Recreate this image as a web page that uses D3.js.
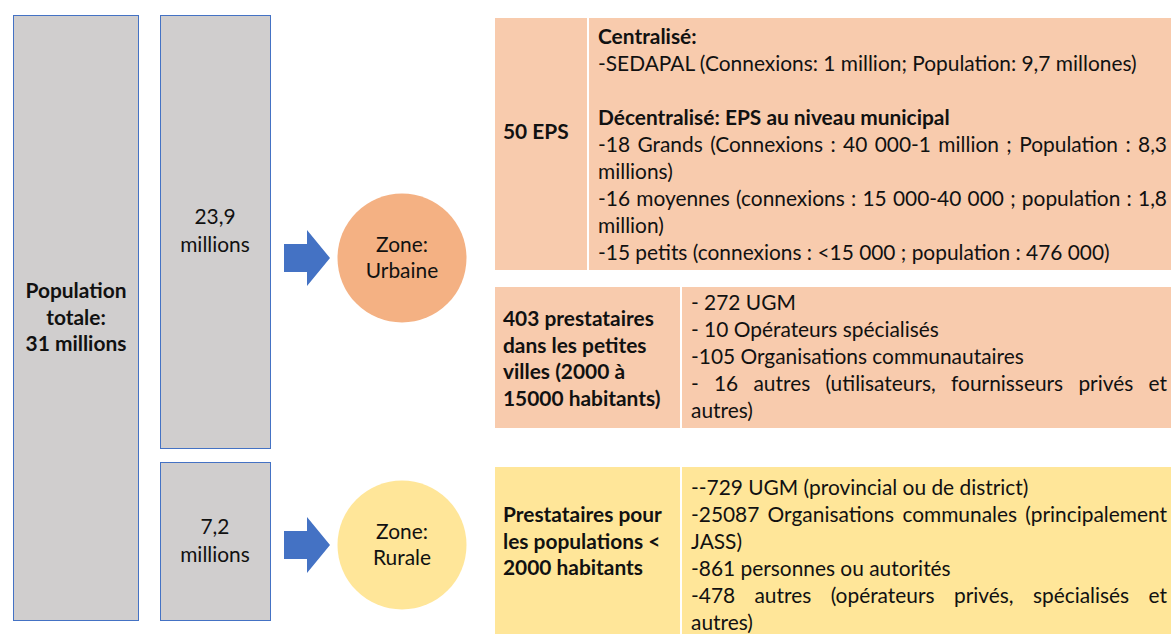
<!DOCTYPE html>
<html>
<head>
<meta charset="utf-8">
<script src="https://cdn.jsdelivr.net/npm/d3@7"></script>
<style>
  body { margin: 0; background: #fff; }
  svg text { font-family: Lato, "Open Sans", sans-serif; fill: #111; }
</style>
</head>
<body>
<svg id="chart" width="1171" height="634"></svg>
<script>
// population (millions)
var totalLabel = ["Population", "totale:", "31 millions"];
var zones = ["Urbaine", "Rurale"];
var zoneValues = ["23,9", "7,2"];

// provider tables: left header lines, right content lines (j = justified)
var eps_head = ["50 EPS"];
var eps_lines = [
  {t: "Centralisé:", b: true},
  {t: "-SEDAPAL (Connexions: 1 million; Population: 9,7 millones)"},
  {t: ""},
  {t: "Décentralisé: EPS au niveau municipal", b: true},
  {t: "-18 Grands (Connexions : 40 000-1 million ; Population : 8,3", j: true},
  {t: "millions)"},
  {t: "-16 moyennes (connexions : 15 000-40 000 ; population : 1,8", j: true},
  {t: "million)"},
  {t: "-15 petits (connexions : <15 000 ; population : 476 000)"}
];
var small_head = ["403 prestataires", "dans les petites", "villes (2000 à", "15000 habitants)"];
var small_lines = [
  {t: "- 272 UGM"},
  {t: "- 10 Opérateurs spécialisés"},
  {t: "-105 Organisations communautaires"},
  {t: "- 16 autres (utilisateurs, fournisseurs privés et", j: true},
  {t: "autres)"}
];
var rural_head = ["Prestataires pour", "les populations <", "2000 habitants"];
var rural_lines = [
  {t: "--729 UGM (provincial ou de district)"},
  {t: "-25087 Organisations communales (principalement", j: true},
  {t: "JASS)"},
  {t: "-861 personnes ou autorités"},
  {t: "-478 autres (opérateurs privés, spécialisés et", j: true},
  {t: "autres)"}
];

var svg = d3.select("#chart");
var lh = 27;
var grey = "#d0cece", blue = "#4472c4";
var orange = "#f4b183", peach = "#f8cbad", yellow = "#ffe699";

// fit font size so the SEDAPAL line spans what it does in the picture
var probe = svg.append("text").attr("font-size", 20).text(eps_lines[1].t);
var fs = 20 * 539 / probe.node().getComputedTextLength();
probe.remove();

// grey columns
svg.append("rect").attr("x", 13.5).attr("y", 15.5).attr("width", 125).attr("height", 605)
  .attr("fill", grey).attr("stroke", blue).attr("stroke-width", 1);
svg.selectAll("text.tot").data(totalLabel).enter().append("text")
  .attr("x", 76).attr("y", function(d, i) { return 298 + i * 26.5; })
  .attr("text-anchor", "middle").attr("font-size", fs).attr("font-weight", "bold")
  .text(function(d) { return d; });

var colBoxes = [{y: 15.5, h: 433}, {y: 462.5, h: 158}];
var zoneY = [258, 545];
var zoneFill = [orange, yellow];

zones.forEach(function(z, k) {
  var b = colBoxes[k], cy = zoneY[k], my = b.y + b.h / 2;
  svg.append("rect").attr("x", 160.5).attr("y", b.y).attr("width", 110).attr("height", b.h)
    .attr("fill", grey).attr("stroke", blue).attr("stroke-width", 1);
  svg.append("text").attr("x", 215).attr("y", my - 8).attr("text-anchor", "middle")
    .attr("font-size", fs).text(zoneValues[k]);
  svg.append("text").attr("x", 215).attr("y", my + 20).attr("text-anchor", "middle")
    .attr("font-size", fs).text("millions");
  // arrow
  var ax = 284;
  svg.append("path")
    .attr("d", "M" + ax + "," + (cy - 14) + "H" + (ax + 23) + "V" + (cy - 28) +
      "L" + (ax + 46) + "," + cy + "L" + (ax + 23) + "," + (cy + 28) + "V" + (cy + 14) + "H" + ax + "Z")
    .attr("fill", blue);
  svg.append("circle").attr("cx", 402).attr("cy", cy).attr("r", 64.5).attr("fill", zoneFill[k]);
  svg.append("text").attr("x", 402).attr("y", cy - 6).attr("text-anchor", "middle")
    .attr("font-size", fs).text("Zone:");
  svg.append("text").attr("x", 402).attr("y", cy + 20).attr("text-anchor", "middle")
    .attr("font-size", fs).text(z);
});

function table(y0, y1, split, fill, head, headY, lines, lineY) {
  var g = svg.append("g");
  g.append("rect").attr("x", 495).attr("y", y0).attr("width", 676).attr("height", y1 - y0).attr("fill", fill);
  g.append("line").attr("x1", split).attr("x2", split).attr("y1", y0).attr("y2", y1)
    .attr("stroke", "#fff").attr("stroke-width", 2);
  g.selectAll("text.h").data(head).enter().append("text")
    .attr("x", 503).attr("y", function(d, i) { return headY + i * 26.5; })
    .attr("font-size", fs).attr("font-weight", "bold").text(function(d) { return d; });
  var x0 = split + 10, x1 = 1167;
  lines.forEach(function(l, i) {
    var y = lineY + i * lh;
    if (!l.j) {
      g.append("text").attr("x", x0).attr("y", y).attr("font-size", fs)
        .attr("font-weight", l.b ? "bold" : null).text(l.t);
      return;
    }
    var words = l.t.split(" ");
    var ws = words.map(function(w) {
      var t = g.append("text").attr("font-size", fs).text(w);
      var wd = t.node().getComputedTextLength();
      t.remove();
      return wd;
    });
    var gap = Math.max(3, (x1 - x0 - d3.sum(ws)) / (words.length - 1));
    var x = x0;
    words.forEach(function(w, k) {
      g.append("text").attr("x", x).attr("y", y).attr("font-size", fs).text(w);
      x += ws[k] + gap;
    });
  });
}

table(18, 270, 588, peach, eps_head, 139, eps_lines, 44);
table(287, 428, 681, peach, small_head, 326, small_lines, 310);
table(467, 634, 681, yellow, rural_head, 522, rural_lines, 495);
</script>
</body>
</html>
